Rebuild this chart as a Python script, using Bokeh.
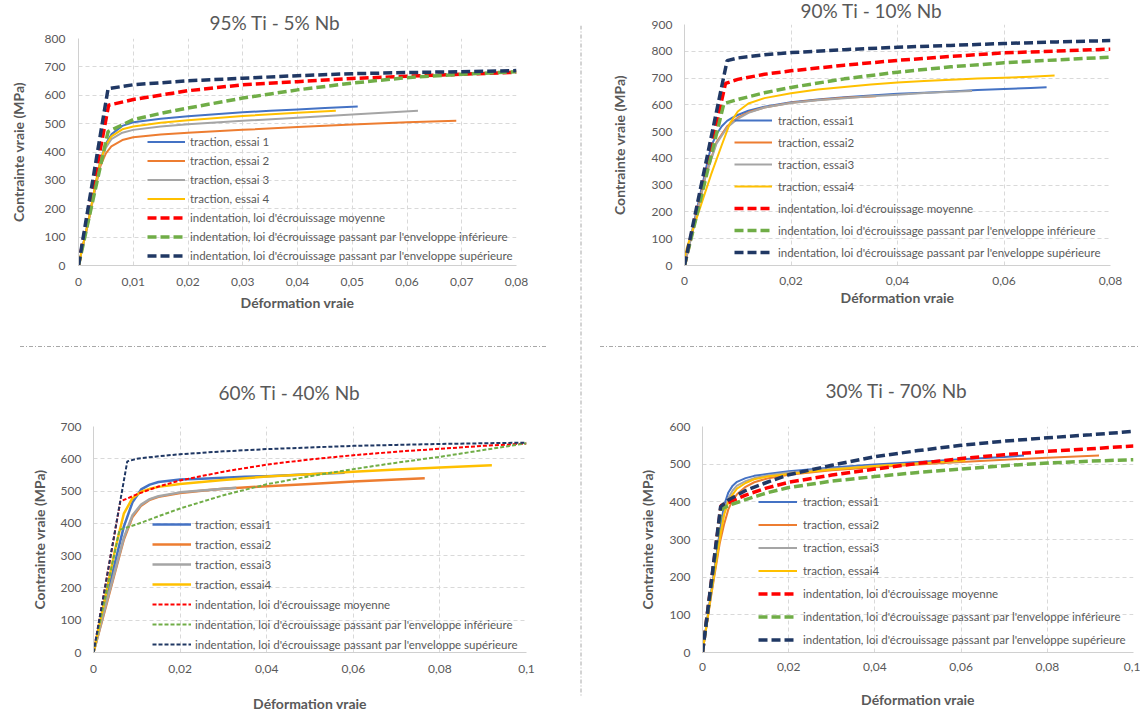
from bokeh.plotting import figure
from bokeh.layouts import row, column
from bokeh.models import Range1d, FixedTicker, CustomJSTickFormatter, Legend, LegendItem, Span, Spacer
from bokeh.embed import file_html
from bokeh.resources import INLINE

FONT = "Lato"
TXT = "#595959"
C_BLUE, C_ORANGE, C_GREY, C_YELLOW = "#4472C4", "#ED7D31", "#A5A5A5", "#FFC000"
C_RED, C_GREEN, C_NAVY = "#FF0000", "#70AD47", "#203864"

# ---------------- data ----------------
titles = ["95% Ti - 5% Nb", "90% Ti - 10% Nb", "60% Ti - 40% Nb", "30% Ti - 70% Nb"]
x_label = "Déformation vraie"
y_label = "Contrainte vraie (MPa)"
labels_1 = ["traction, essai 1", "traction, essai 2", "traction, essai 3", "traction, essai 4"]
labels_234 = ["traction, essai1", "traction, essai2", "traction, essai3", "traction, essai4"]
labels_ind = ["indentation, loi d'écrouissage moyenne",
              "indentation, loi d'écrouissage passant par l'enveloppe inférieure",
              "indentation, loi d'écrouissage passant par l'enveloppe supérieure"]

# panel 1 : 95% Ti - 5% Nb
p1_e1_x = [0, 0.002, 0.003, 0.004, 0.005, 0.006, 0.008, 0.01, 0.015, 0.02, 0.025, 0.03, 0.035, 0.04, 0.045, 0.051]
p1_e1_y = [0, 175, 275, 370, 430, 462, 492, 505, 517, 526, 533, 540, 545, 550, 555, 560]
p1_e2_x = [0, 0.002, 0.003, 0.004, 0.005, 0.006, 0.008, 0.01, 0.015, 0.02, 0.03, 0.04, 0.05, 0.06, 0.069]
p1_e2_y = [0, 170, 265, 350, 395, 420, 442, 452, 462, 468, 478, 488, 497, 505, 510]
p1_e3_x = [0, 0.002, 0.003, 0.004, 0.005, 0.006, 0.008, 0.01, 0.015, 0.02, 0.03, 0.04, 0.05, 0.062]
p1_e3_y = [0, 172, 270, 362, 415, 445, 468, 478, 490, 498, 510, 521, 532, 545]
p1_e4_x = [0, 0.002, 0.003, 0.004, 0.005, 0.006, 0.008, 0.01, 0.015, 0.02, 0.03, 0.04, 0.047]
p1_e4_y = [0, 175, 278, 368, 425, 455, 480, 490, 503, 512, 527, 538, 545]
p1_moy_x = [0, 0.0055, 0.01, 0.02, 0.03, 0.04, 0.05, 0.06, 0.07, 0.08]
p1_moy_y = [0, 565, 585, 616, 637, 648, 659, 667, 674, 681]
p1_inf_x = [0, 0.0054, 0.01, 0.015, 0.02, 0.03, 0.04, 0.05, 0.06, 0.07, 0.08]
p1_inf_y = [0, 472, 514, 536, 555, 590, 619, 643, 662, 674, 683]
p1_sup_x = [0, 0.0054, 0.01, 0.02, 0.03, 0.04, 0.05, 0.06, 0.07, 0.08]
p1_sup_y = [0, 623, 637, 651, 660, 669, 676, 680, 683, 687]

# panel 2 : 90% Ti - 10% Nb
p2_e1_x = [0, 0.002, 0.004, 0.005, 0.006, 0.007, 0.008, 0.009, 0.01, 0.012, 0.015, 0.02, 0.025, 0.03, 0.035, 0.04, 0.045, 0.05, 0.055, 0.06, 0.065, 0.068]
p2_e1_y = [0, 180, 360, 445, 490, 520, 540, 552, 562, 578, 593, 610, 620, 628, 635, 641, 645, 650, 655, 659, 663, 666]
p2_e2_x = [0, 0.002, 0.004, 0.006, 0.008, 0.01, 0.012, 0.015, 0.02, 0.025, 0.03, 0.036]
p2_e2_y = [0, 170, 340, 460, 520, 552, 572, 590, 608, 618, 626, 632]
p2_e3_x = [0, 0.002, 0.004, 0.006, 0.008, 0.01, 0.012, 0.015, 0.02, 0.025, 0.03, 0.035, 0.04, 0.045, 0.05, 0.054]
p2_e3_y = [0, 165, 335, 455, 515, 548, 570, 590, 607, 617, 625, 632, 638, 644, 649, 652]
p2_e4_x = [0, 0.0005, 0.0025, 0.005, 0.007, 0.0085, 0.01, 0.012, 0.015, 0.02, 0.025, 0.03, 0.035, 0.04, 0.045, 0.05, 0.055, 0.06, 0.065, 0.0695]
p2_e4_y = [30, 70, 190, 340, 450, 530, 575, 605, 625, 643, 657, 667, 676, 683, 689, 694, 698, 701, 705, 710]
p2_moy_x = [0, 0.0077, 0.01, 0.015, 0.02, 0.03, 0.04, 0.05, 0.06, 0.07, 0.08]
p2_moy_y = [0, 680, 695, 714, 727, 748, 766, 781, 794, 801, 808]
p2_inf_x = [0, 0.0074, 0.01, 0.015, 0.02, 0.03, 0.04, 0.05, 0.06, 0.07, 0.08]
p2_inf_y = [0, 605, 620, 645, 665, 697, 722, 742, 757, 768, 778]
p2_sup_x = [0, 0.008, 0.01, 0.015, 0.02, 0.03, 0.04, 0.05, 0.06, 0.07, 0.08]
p2_sup_y = [0, 765, 775, 787, 795, 806, 815, 822, 829, 835, 840]

# panel 3 : 60% Ti - 40% Nb
p3_e1_x = [0, 0.003, 0.005, 0.007, 0.009, 0.011, 0.013, 0.015, 0.02, 0.025, 0.03, 0.035, 0.04, 0.045, 0.05, 0.055, 0.058]
p3_e1_y = [0, 170, 280, 390, 465, 505, 520, 528, 536, 538, 541, 544, 546, 549, 552, 555, 557]
p3_e2_x = [0, 0.003, 0.005, 0.007, 0.009, 0.011, 0.013, 0.015, 0.02, 0.025, 0.03, 0.04, 0.05, 0.06, 0.07, 0.0765]
p3_e2_y = [0, 150, 250, 350, 420, 455, 473, 482, 494, 501, 507, 515, 522, 530, 536, 540]
p3_e3_x = [0, 0.003, 0.005, 0.007, 0.009, 0.011, 0.013, 0.015, 0.02, 0.025, 0.03, 0.033]
p3_e3_y = [0, 155, 255, 355, 425, 458, 475, 484, 496, 502, 507, 510]
p3_e4_x = [0, 0.003, 0.005, 0.007, 0.009, 0.011, 0.013, 0.015, 0.02, 0.03, 0.04, 0.05, 0.06, 0.07, 0.08, 0.092]
p3_e4_y = [0, 190, 320, 430, 478, 498, 507, 513, 522, 534, 545, 552, 560, 567, 573, 580]
p3_moy_x = [0, 0.0062, 0.008, 0.01, 0.015, 0.02, 0.03, 0.04, 0.05, 0.06, 0.07, 0.08, 0.09, 0.1]
p3_moy_y = [0, 468, 478, 490, 514, 533, 560, 582, 598, 611, 622, 631, 640, 647]
p3_inf_x = [0, 0.006, 0.01, 0.015, 0.02, 0.03, 0.04, 0.05, 0.06, 0.07, 0.08, 0.09, 0.1]
p3_inf_y = [0, 380, 397, 422, 446, 487, 521, 546, 568, 588, 606, 627, 648]
p3_sup_x = [0, 0.0078, 0.01, 0.015, 0.02, 0.03, 0.04, 0.05, 0.06, 0.07, 0.08, 0.09, 0.1]
p3_sup_y = [0, 592, 600, 608, 614, 623, 630, 635, 640, 643, 646, 648, 650]

# panel 4 : 30% Ti - 70% Nb
p4_e1_x = [0, 0.002, 0.004, 0.005, 0.006, 0.007, 0.008, 0.01, 0.012, 0.015, 0.02, 0.03, 0.04, 0.05, 0.06, 0.07, 0.0746]
p4_e1_y = [0, 160, 320, 390, 425, 443, 453, 463, 469, 474, 481, 491, 499, 506, 513, 519, 523]
p4_e2_x = [0, 0.002, 0.004, 0.005, 0.006, 0.007, 0.008, 0.01, 0.012, 0.015, 0.02, 0.03, 0.04, 0.05, 0.06, 0.07, 0.08, 0.092]
p4_e2_y = [0, 150, 290, 340, 380, 405, 420, 440, 452, 462, 472, 484, 492, 499, 506, 512, 517, 523]
p4_e3_x = [0, 0.002, 0.004, 0.005, 0.006, 0.007, 0.008, 0.01, 0.012, 0.015, 0.02, 0.03, 0.04, 0.05, 0.06]
p4_e3_y = [0, 155, 305, 370, 410, 430, 443, 455, 463, 470, 478, 488, 495, 502, 508]
p4_e4_x = [0, 0.002, 0.004, 0.005, 0.006, 0.007, 0.008, 0.01, 0.012, 0.015, 0.02, 0.03, 0.04, 0.05, 0.061]
p4_e4_y = [0, 155, 300, 365, 400, 420, 435, 450, 460, 467, 474, 486, 495, 502, 510]
p4_moy_x = [0, 0.0043, 0.006, 0.01, 0.015, 0.02, 0.03, 0.04, 0.05, 0.06, 0.07, 0.08, 0.09, 0.1]
p4_moy_y = [0, 390, 398, 418, 437, 452, 471, 487, 502, 515, 525, 534, 541, 548]
p4_inf_x = [0, 0.0043, 0.006, 0.01, 0.015, 0.02, 0.03, 0.04, 0.05, 0.06, 0.07, 0.08, 0.09, 0.1]
p4_inf_y = [0, 380, 390, 406, 424, 438, 455, 467, 478, 487, 496, 503, 508, 512]
p4_sup_x = [0, 0.0042, 0.006, 0.01, 0.015, 0.02, 0.03, 0.04, 0.05, 0.06, 0.07, 0.08, 0.09, 0.1]
p4_sup_y = [0, 387, 405, 430, 452, 472, 497, 520, 536, 550, 561, 570, 578, 587]

x_ticks_1 = [0, 0.01, 0.02, 0.03, 0.04, 0.05, 0.06, 0.07, 0.08]
x_ticks_2 = [0, 0.02, 0.04, 0.06, 0.08]
x_ticks_34 = [0, 0.02, 0.04, 0.06, 0.08, 0.1]
y_ticks_1 = [0, 100, 200, 300, 400, 500, 600, 700, 800]
y_ticks_2 = [0, 100, 200, 300, 400, 500, 600, 700, 800, 900]
y_ticks_3 = [0, 100, 200, 300, 400, 500, 600, 700]
y_ticks_4 = [0, 100, 200, 300, 400, 500, 600]

fmt_js = """
if (Math.abs(tick) < 1e-12) { return "0"; }
var s = tick.toFixed(2).replace(/0+$/, "");
return s.replace(".", ",");
"""

SEP = "#a8a8a8"
DASHDOT = ("repeating-linear-gradient(to right, {c} 0px, {c} 4px, transparent 4px, transparent 6px, "
           "{c} 6px, {c} 7px, transparent 7px, transparent 9px)").format(c=SEP)


def make_panel(cfg):
    styles = {}
    if cfg.get("shift"):
        styles["margin-top"] = "-%dpx" % cfg["shift"]
    if cfg.get("sep"):
        x0, length = cfg["sep"]
        styles["padding-top"] = "1px"
        styles["background-color"] = "white"
        styles["background-image"] = DASHDOT
        styles["background-size"] = "%dpx 1px" % length
        styles["background-position"] = "%dpx 0px" % x0
        styles["background-repeat"] = "no-repeat"
    p = figure(width=cfg["w"], height=cfg["h"], output_backend="svg", toolbar_location=None,
               x_range=Range1d(0, cfg["xmax"]), y_range=Range1d(0, cfg["ymax"]),
               min_border_left=cfg["mb"][0], min_border_right=cfg["mb"][1],
               min_border_top=cfg["mb"][2], min_border_bottom=cfg["mb"][3],
               title=cfg["title"], styles=styles)
    p.outline_line_color = None
    p.background_fill_color = "white"
    p.border_fill_color = "white"
    t = p.title
    t.align = "left"
    t.offset = cfg["t_off"]
    t.standoff = cfg["t_stand"]
    t.text_font = FONT
    t.text_font_size = "19px"
    t.text_font_style = "normal"
    t.text_color = TXT

    p.xaxis.ticker = FixedTicker(ticks=cfg["xt"])
    p.yaxis.ticker = FixedTicker(ticks=cfg["yt"])
    p.xaxis.formatter = CustomJSTickFormatter(code=fmt_js)
    for ax in (p.xaxis[0], p.yaxis[0]):
        ax.major_tick_in = 0
        ax.major_tick_out = 0
        ax.minor_tick_in = 0
        ax.minor_tick_out = 0
        ax.axis_line_color = "#d0d0d0"
        ax.major_label_text_font = FONT
        ax.major_label_text_font_size = "12px"
        ax.major_label_text_color = TXT
        ax.axis_label_text_font = FONT
        ax.axis_label_text_font_size = "14px"
        ax.axis_label_text_font_style = "bold"
        ax.axis_label_text_color = TXT
    p.xaxis.axis_label = x_label
    p.yaxis.axis_label = y_label
    p.xaxis.major_label_standoff = cfg["xs"][0]
    p.xaxis.axis_label_standoff = cfg["xs"][1]
    p.yaxis.major_label_standoff = cfg["ys"][0]
    p.yaxis.axis_label_standoff = cfg["ys"][1]

    p.xgrid.ticker = FixedTicker(ticks=cfg["xt"])
    p.ygrid.ticker = FixedTicker(ticks=cfg["yt"])
    p.grid.grid_line_color = "#d9d9d9"
    p.grid.grid_line_dash = "4 3"
    p.grid.grid_line_width = 1

    items = []
    colors = [C_BLUE, C_ORANGE, C_GREY, C_YELLOW, C_RED, C_GREEN, C_NAVY]
    for i, (xs, ys) in enumerate(cfg["curves"]):
        if i < 4:
            r = p.line(xs, ys, line_color=colors[i], line_width=cfg["sw"], line_join="round")
        else:
            r = p.line(xs, ys, line_color=colors[i], line_width=cfg["dw"], line_dash=cfg["dash"])
        items.append(LegendItem(label=cfg["labels"][i], renderers=[r]))

    lg = Legend(items=items, location=cfg["lg_loc"], orientation="vertical",
                border_line_color=None, background_fill_alpha=0, padding=0, margin=0,
                spacing=2, glyph_width=cfg["gw"], glyph_height=cfg["ih"], label_height=cfg["ih"],
                label_standoff=cfg["lso"], label_text_font=FONT, label_text_font_size="11.5px",
                label_text_color=TXT)
    p.add_layout(lg)
    return p


cfg1 = dict(w=579, h=346, mb=(78, 63, 37, 81), title=titles[0], t_off=131, t_stand=10,
            xmax=0.08, ymax=800, xt=x_ticks_1, yt=y_ticks_1, xs=(12, 5), ys=(13, 15),
            curves=[(p1_e1_x, p1_e1_y), (p1_e2_x, p1_e2_y), (p1_e3_x, p1_e3_y), (p1_e4_x, p1_e4_y),
                    (p1_moy_x, p1_moy_y), (p1_inf_x, p1_inf_y), (p1_sup_x, p1_sup_y)],
            labels=labels_1 + labels_ind, sw=2, dw=3.5, dash="9 4",
            lg_loc=(69, 1), gw=38, ih=17, lso=5)
cfg2 = dict(w=558, h=360, mb=(102, 30, 38, 76), title=titles[1], t_off=116, t_stand=6, shift=14,
            xmax=0.08, ymax=900, xt=x_ticks_2, yt=y_ticks_2, xs=(11, 1), ys=(12, 21),
            curves=[(p2_e1_x, p2_e1_y), (p2_e2_x, p2_e2_y), (p2_e3_x, p2_e3_y), (p2_e4_x, p2_e4_y),
                    (p2_moy_x, p2_moy_y), (p2_inf_x, p2_inf_y), (p2_sup_x, p2_sup_y)],
            labels=labels_234 + labels_ind, sw=2, dw=3.5, dash="9 4",
            lg_loc=(50, 3), gw=38, ih=20, lso=6)
cfg3 = dict(w=579, h=369, mb=(93, 53, 76, 64), title=titles[2], t_off=125, t_stand=46, sep=(20, 528),
            xmax=0.1, ymax=700, xt=x_ticks_34, yt=y_ticks_3, xs=(12, 19), ys=(12, 10),
            curves=[(p3_e1_x, p3_e1_y), (p3_e2_x, p3_e2_y), (p3_e3_x, p3_e3_y), (p3_e4_x, p3_e4_y),
                    (p3_moy_x, p3_moy_y), (p3_inf_x, p3_inf_y), (p3_sup_x, p3_sup_y)],
            labels=labels_234 + labels_ind, sw=2.5, dw=2, dash="4 2",
            lg_loc=(59, -1), gw=39, ih=18, lso=4)
cfg4 = dict(w=558, h=369, mb=(120, 7, 79, 58), title=titles[3], t_off=123, t_stand=50, sep=(18, 540),
            xmax=0.1, ymax=600, xt=x_ticks_34, yt=y_ticks_4, xs=(10, 17), ys=(12, 11),
            curves=[(p4_e1_x, p4_e1_y), (p4_e2_x, p4_e2_y), (p4_e3_x, p4_e3_y), (p4_e4_x, p4_e4_y),
                    (p4_moy_x, p4_moy_y), (p4_inf_x, p4_inf_y), (p4_sup_x, p4_sup_y)],
            labels=labels_234 + labels_ind, sw=2, dw=3.5, dash="9 4",
            lg_loc=(56, 2), gw=39, ih=21, lso=6)

f1, f2, f3, f4 = (make_panel(c) for c in (cfg1, cfg2, cfg3, cfg4))


def vsep(h):
    s = figure(width=3, height=h, output_backend="svg", toolbar_location=None, title=None,
               x_axis_type=None, y_axis_type=None, min_border=0,
               x_range=Range1d(-1, 1), y_range=Range1d(-1, 1))
    s.outline_line_color = None
    s.grid.visible = False
    s.add_layout(Span(location=0, dimension="height", line_color=SEP, line_width=1, line_dash="4 2 1 2"))
    return s


top_mid = column(Spacer(width=3, height=25), vsep(321), spacing=0)
bot_mid = column(vsep(350), Spacer(width=3, height=20), spacing=0)

layout = column(row(f1, top_mid, f2, spacing=0),
                row(f3, bot_mid, f4, spacing=0), spacing=0)

open("out.html", "w").write(file_html(layout, INLINE))
